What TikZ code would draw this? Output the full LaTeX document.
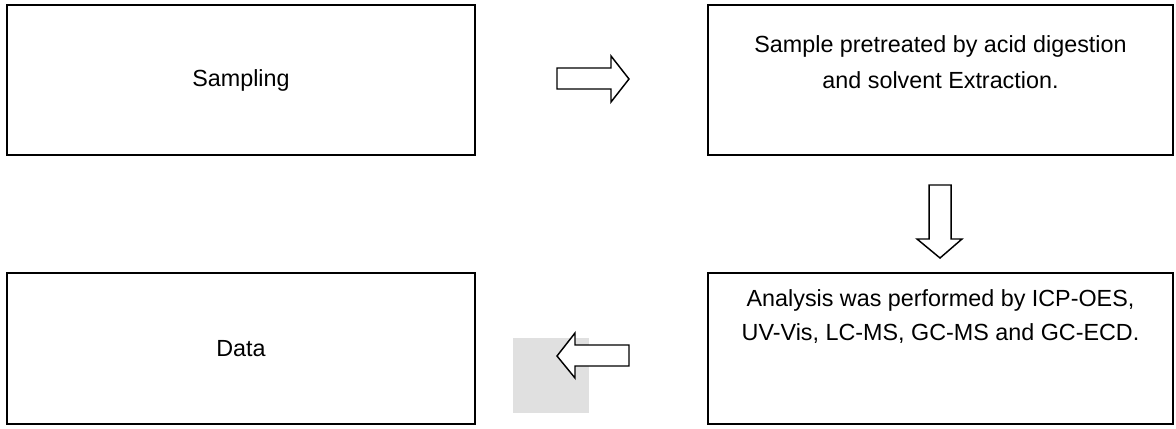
\documentclass[tikz,border=0pt]{standalone}
\usepackage{fontspec}
\setmainfont{Liberation Sans}
\usetikzlibrary{positioning, calc}

\begin{document}
\begin{tikzpicture}[x=0.75pt, y=-0.75pt]
    % --- Style Definitions ---
    \tikzset{
        step box/.style={
            draw=black,
            line width=1.5pt,
            minimum width=351pt,
            minimum height=112.5pt,
            inner sep=0pt
        },
        block arrow/.style={
            draw=black,
            line width=1.1pt,
            fill=white,
            line join=miter
        },
        label text/.style={
            font=\fontsize{17.5}{25}\selectfont,
            color=black,
            align=center
        }
    }

    % Canvas
    \useasboundingbox (0,0) rectangle (1176,428);

    % --- 1. The four boxes ---
    \node[step box] (sampling) at (241,80) {};
    \node[step box, minimum width=349pt] (pretreat) at (940.5,80) {};
    \node[step box, minimum height=113pt] (data) at (241,348.5) {};
    \node[step box, minimum width=349pt, minimum height=113pt] (analysis) at (940.5,348.5) {};

    % --- 2. Texts ---
    \node[label text] at (sampling.center) {Sampling};
    \node[label text] at (940.5,46) {Sample pretreated by acid digestion};
    \node[label text] at (940.5,80) {and solvent Extraction.};
    \node[label text] at (data.center) {Data};
    \node[label text] at (940.5,300) {Analysis was performed by ICP-OES,};
    \node[label text] at (940.5,334) {UV-Vis, LC-MS, GC-MS and GC-ECD.};

    % --- 3. Gray patch behind the left arrow ---
    \fill[gray!24] (513,338) rectangle (589,413);

    % --- 4. Block arrows ---
    % right
    \draw[block arrow] (557,68) -- (611,68) -- (611,56) -- (629,79)
        -- (611,102) -- (611,89) -- (557,89) -- cycle;
    % down
    \draw[block arrow] (929,185) -- (951,185) -- (951,239) -- (962,239)
        -- (940,258) -- (917,239) -- (929,239) -- cycle;
    % left
    \draw[block arrow] (629,345) -- (575,345) -- (575,333) -- (557,356)
        -- (575,378) -- (575,366) -- (629,366) -- cycle;

\end{tikzpicture}
\end{document}
